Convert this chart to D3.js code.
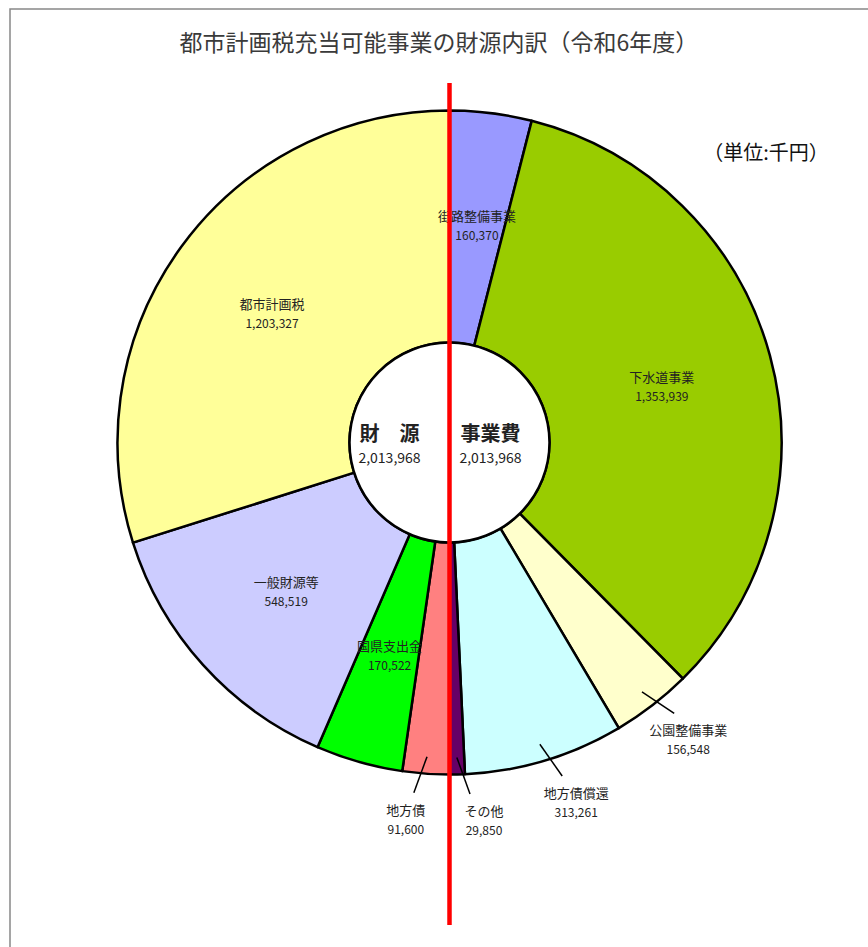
<!DOCTYPE html>
<html>
<head>
<meta charset="utf-8">
<script src="https://cdn.jsdelivr.net/npm/d3@7"></script>
<style>
  body { margin: 0; background: #fff; }
  svg text { font-family: "Noto Sans CJK JP", "Noto Sans", sans-serif; fill: #222; }
</style>
</head>
<body>
<div id="chart"></div>
<script>
// 右半分：事業費、左半分：財源（上から時計回り）
const names = ["街路整備事業", "下水道事業", "公園整備事業", "地方債償還", "その他",
               "地方債", "国県支出金", "一般財源等", "都市計画税"];
const values = [160370, 1353939, 156548, 313261, 29850,
                91600, 170522, 548519, 1203327];
const colors = ["#9999ff", "#99cc00", "#ffffcc", "#ccffff", "#660066",
                "#ff8080", "#00ff00", "#ccccff", "#ffff99"];
// 外側に引出線で表示するもの
const outside = ["公園整備事業", "地方債償還", "その他", "地方債"];

const centerNames = ["財　源", "事業費"];
const centerTotals = [2013968, 2013968];

const title = "都市計画税充当可能事業の財源内訳（令和6年度）";
const unit = "（単位:千円）";

const W = 868, H = 947;
const cx = 449.5, cy = 442.5, R = 332, r0 = 100;

const svg = d3.select("#chart").append("svg")
  .attr("width", W)
  .attr("height", H);

// 枠
svg.append("rect")
  .attr("x", 10).attr("y", 9)
  .attr("width", W + 10).attr("height", H + 10)
  .attr("fill", "#fff")
  .attr("stroke", "#888")
  .attr("stroke-width", 1.5);

svg.append("text")
  .attr("x", 439).attr("y", 51)
  .attr("text-anchor", "middle")
  .style("font-size", "23px")
  .style("fill", "#3a3a3a")
  .text(title);

svg.append("text")
  .attr("x", 766).attr("y", 160)
  .attr("text-anchor", "middle")
  .style("font-size", "20px")
  .style("fill", "#111")
  .text(unit);

const data = names.map((n, i) => ({ name: n, value: values[i], color: colors[i] }));

const pie = d3.pie().sort(null).value(d => d.value);
const arcs = pie(data);
const arc = d3.arc().innerRadius(r0).outerRadius(R);
const fmt = d3.format(",");

const g = svg.append("g").attr("transform", `translate(${cx},${cy})`);

g.selectAll("path.slice")
  .data(arcs)
  .enter()
  .append("path")
  .attr("class", "slice")
  .attr("d", arc)
  .attr("fill", d => d.data.color)
  .attr("stroke", "#000")
  .attr("stroke-width", 2.5)
  .attr("stroke-linejoin", "round");

// 中央の白い円
g.append("circle")
  .attr("r", r0)
  .attr("fill", "#fff")
  .attr("stroke", "#000")
  .attr("stroke-width", 2.5);

// 内側ラベル
const inLabel = d3.arc().innerRadius(220).outerRadius(220);
const inside = arcs.filter(d => !outside.includes(d.data.name));

const lab = g.selectAll("g.lab")
  .data(inside)
  .enter()
  .append("g")
  .attr("class", "lab")
  .attr("transform", d => `translate(${inLabel.centroid(d)})`);

lab.append("text")
  .attr("text-anchor", "middle")
  .attr("y", -3)
  .style("font-size", "13px")
  .text(d => d.data.name);

lab.append("text")
  .attr("text-anchor", "middle")
  .attr("y", 16)
  .style("font-size", "12px")
  .text(d => fmt(d.data.value));

// 外側ラベル（引出線）
const pt = (a, rad) => [rad * Math.sin(a), -rad * Math.cos(a)];
const outs = arcs.filter(d => outside.includes(d.data.name));

outs.forEach(d => {
  let a = (d.startAngle + d.endAngle) / 2;
  const right = a < Math.PI;
  // 細い扇形は引出線を少し傾ける
  const p1 = pt(a, 315);
  const p2 = pt(a + (right ? -0.035 : 0.03), 352);
  g.append("line")
    .attr("x1", p1[0]).attr("y1", p1[1])
    .attr("x2", p2[0]).attr("y2", p2[1])
    .attr("stroke", "#000")
    .attr("stroke-width", 1.5);
  const lx = p2[0] + (right ? 14 : -8);
  const ly = p2[1] + 22;
  g.append("text")
    .attr("x", lx).attr("y", ly)
    .attr("text-anchor", "middle")
    .style("font-size", "13px")
    .text(d.data.name);
  g.append("text")
    .attr("x", lx).attr("y", ly + 19)
    .attr("text-anchor", "middle")
    .style("font-size", "12px")
    .text(fmt(d.data.value));
});

// 中央ラベル
centerNames.forEach((n, i) => {
  const x = i === 0 ? -60 : 41;
  g.append("text")
    .attr("x", x).attr("y", -2)
    .attr("text-anchor", "middle")
    .style("font-size", "20px")
    .style("font-weight", "bold")
    .text(n);
  g.append("text")
    .attr("x", x).attr("y", 20)
    .attr("text-anchor", "middle")
    .style("font-size", "14px")
    .text(fmt(centerTotals[i]));
});

// 赤い区切り線
svg.append("line")
  .attr("x1", cx).attr("x2", cx)
  .attr("y1", 83).attr("y2", 925)
  .attr("stroke", "#ff0000")
  .attr("stroke-width", 4.5);
</script>
</body>
</html>
